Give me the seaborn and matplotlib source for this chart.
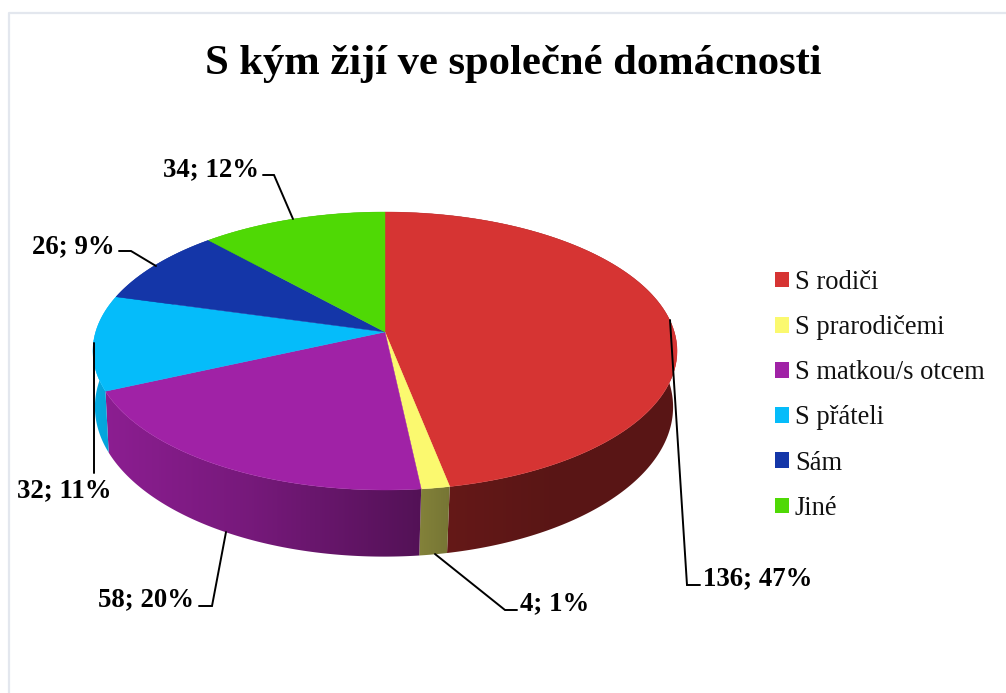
import numpy as np
import seaborn as sns
import matplotlib.pyplot as plt
from matplotlib.patches import Patch, Polygon

sns.set_theme(style="white")
plt.rcParams['font.family'] = ['Liberation Serif', 'DejaVu Serif']

categories = ["S rodiči", "S prarodičemi", "S matkou/s otcem", "S přáteli", "Sám", "Jiné"]
values = [136, 4, 58, 32, 26, 34]
colors = ["#d63433", "#fbf96f", "#a022a6", "#05bcfa", "#1436a8", "#4fd905"]
title = "S kým žijí ve společné domácnosti"

palette = sns.color_palette(colors)
total = sum(values)
edges = np.concatenate([[0], np.cumsum(values)]) / total * 2 * np.pi
labels = [f"{v}; {round(100 * v / total)}%" for v in values]

# label text position, leader line
label_pos = [(758, 579), (555, 604), (146, 600), (64, 491), (73, 247), (211, 170)]
leaders = [
    [(670, 320), (687, 585), (700, 585)],
    [(435, 554), (505, 610), (517, 610)],
    [(199, 606), (212, 606), (226, 532)],
    [(94, 343), (94, 473)],
    [(119, 251), (131, 251), (156, 266)],
    [(263, 175), (274, 175), (293, 219)],
]


def top_rim(a):
    # perspective circle, seen from above
    d = 1 + 0.1367 * np.cos(a)
    return 385 + 289.3 * np.sin(a) / d, 332 - 136.4 * np.cos(a) / d


def bottom_rim(a):
    d = 1 + 0.12 * np.cos(a)
    return 384 + 287 * np.sin(a) / d, 389 - 147.5 * np.cos(a) / d


def shade(x):
    return np.interp(x, [95, 110, 250, 420, 450, 550, 680],
                     [0.9, 0.87, 0.74, 0.52, 0.47, 0.42, 0.42])


fig = plt.figure(figsize=(10.06, 6.93), dpi=100)
ax = fig.add_axes([0, 0, 1, 1])
ax.axis("off")

# frame of the page
ax.plot([9, 9, 1006], [693, 13, 13], color="#e3e7ee", lw=1.6)

# side wall, a horizontal gradient clipped to each slice
grid = np.arange(90, 690)
for i, col in enumerate(palette):
    ang = np.linspace(edges[i], edges[i + 1], 200)
    tx, ty = top_rim(ang)
    bx, by = bottom_rim(ang[::-1])
    wall = Polygon(np.c_[np.r_[tx, bx], np.r_[ty, by]], closed=True, facecolor="none", edgecolor="none")
    ax.add_patch(wall)
    img = np.outer(shade(grid), np.array(col))[np.newaxis, :, :]
    ax.imshow(img, extent=(90, 690, 600, 150), aspect="auto", clip_path=wall, interpolation="bilinear")

# top face
for i, col in enumerate(palette):
    ang = np.linspace(edges[i], edges[i + 1], 200)
    x, y = top_rim(ang)
    ax.fill(np.r_[385, x], np.r_[332, y], color=col, lw=0.3)

for pts in leaders:
    xs, ys = zip(*pts)
    ax.plot(xs, ys, color="black", lw=1.4, solid_joinstyle="miter")

for (x, y), s in zip(label_pos, labels):
    ax.text(x, y, s, ha="center", va="center", fontsize=19.3, fontweight="bold", color="black")

ax.text(513.5, 64, title, ha="center", va="center", fontsize=30.7, fontweight="bold", color="black")

ax.set_xlim(0, 1006)
ax.set_ylim(693, 0)

handles = [Patch(facecolor=c, edgecolor="none", label=n) for c, n in zip(palette, categories)]
ax.legend(handles=handles, loc="upper left", bbox_to_anchor=(775 / 1006, 1 - 270 / 693),
          frameon=False, fontsize=19.1, handlelength=0.53, handleheight=0.53,
          handletextpad=0.22, labelspacing=0.76, borderpad=0, borderaxespad=0, labelcolor="#111111")

fig.savefig("out.png", dpi=100)
